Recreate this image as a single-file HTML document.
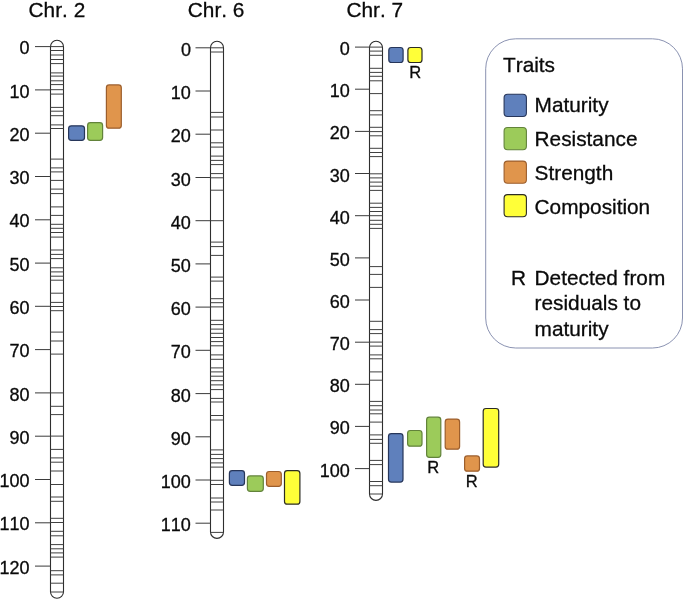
<!DOCTYPE html>
<html><head><meta charset="utf-8"><title>QTL map</title>
<style>
html,body{margin:0;padding:0;background:#fff;}
body{width:685px;height:601px;overflow:hidden;}
svg{display:block;will-change:transform;}
text{font-family:"Liberation Sans",sans-serif;fill:#0a0a0a;font-kerning:none;stroke:#0a0a0a;stroke-width:0.3px;}
.t20{font-size:20.8px;}
.t18{font-size:18px;}
.t15{font-size:16.5px;}
.chr{fill:#fff;stroke:#2e2e2e;stroke-width:1.1;}
.mk{stroke:#404040;stroke-width:1;}
.tk{stroke:#3a3a3a;stroke-width:1;}
</style></head><body>
<svg width="685" height="601" viewBox="0 0 685 601">
<rect x="0" y="0" width="685" height="601" fill="#ffffff"/>
<text class="t20" x="28.6" y="16.9">Chr. 2</text>
<rect class="chr" x="50.50" y="40.30" width="13.00" height="558.00" rx="6.50" ry="6.50"/>
<line class="mk" x1="50.50" x2="63.50" y1="46.6" y2="46.6"/>
<line class="mk" x1="50.50" x2="63.50" y1="50.5" y2="50.5"/>
<line class="mk" x1="50.50" x2="63.50" y1="55.0" y2="55.0"/>
<line class="mk" x1="50.50" x2="63.50" y1="59.5" y2="59.5"/>
<line class="mk" x1="50.50" x2="63.50" y1="63.6" y2="63.6"/>
<line class="mk" x1="50.50" x2="63.50" y1="72.9" y2="72.9"/>
<line class="mk" x1="50.50" x2="63.50" y1="76.1" y2="76.1"/>
<line class="mk" x1="50.50" x2="63.50" y1="80.8" y2="80.8"/>
<line class="mk" x1="50.50" x2="63.50" y1="84.6" y2="84.6"/>
<line class="mk" x1="50.50" x2="63.50" y1="89.7" y2="89.7"/>
<line class="mk" x1="50.50" x2="63.50" y1="94.1" y2="94.1"/>
<line class="mk" x1="50.50" x2="63.50" y1="107.4" y2="107.4"/>
<line class="mk" x1="50.50" x2="63.50" y1="111.2" y2="111.2"/>
<line class="mk" x1="50.50" x2="63.50" y1="115.7" y2="115.7"/>
<line class="mk" x1="50.50" x2="63.50" y1="124.9" y2="124.9"/>
<line class="mk" x1="50.50" x2="63.50" y1="128.5" y2="128.5"/>
<line class="mk" x1="50.50" x2="63.50" y1="159.1" y2="159.1"/>
<line class="mk" x1="50.50" x2="63.50" y1="167.9" y2="167.9"/>
<line class="mk" x1="50.50" x2="63.50" y1="171.9" y2="171.9"/>
<line class="mk" x1="50.50" x2="63.50" y1="180.4" y2="180.4"/>
<line class="mk" x1="50.50" x2="63.50" y1="189.1" y2="189.1"/>
<line class="mk" x1="50.50" x2="63.50" y1="193.6" y2="193.6"/>
<line class="mk" x1="50.50" x2="63.50" y1="206.9" y2="206.9"/>
<line class="mk" x1="50.50" x2="63.50" y1="215.4" y2="215.4"/>
<line class="mk" x1="50.50" x2="63.50" y1="224.3" y2="224.3"/>
<line class="mk" x1="50.50" x2="63.50" y1="228.3" y2="228.3"/>
<line class="mk" x1="50.50" x2="63.50" y1="232.5" y2="232.5"/>
<line class="mk" x1="50.50" x2="63.50" y1="237.1" y2="237.1"/>
<line class="mk" x1="50.50" x2="63.50" y1="250.0" y2="250.0"/>
<line class="mk" x1="50.50" x2="63.50" y1="254.4" y2="254.4"/>
<line class="mk" x1="50.50" x2="63.50" y1="258.6" y2="258.6"/>
<line class="mk" x1="50.50" x2="63.50" y1="267.8" y2="267.8"/>
<line class="mk" x1="50.50" x2="63.50" y1="271.9" y2="271.9"/>
<line class="mk" x1="50.50" x2="63.50" y1="276.2" y2="276.2"/>
<line class="mk" x1="50.50" x2="63.50" y1="280.2" y2="280.2"/>
<line class="mk" x1="50.50" x2="63.50" y1="293.2" y2="293.2"/>
<line class="mk" x1="50.50" x2="63.50" y1="302.4" y2="302.4"/>
<line class="mk" x1="50.50" x2="63.50" y1="306.5" y2="306.5"/>
<line class="mk" x1="50.50" x2="63.50" y1="310.7" y2="310.7"/>
<line class="mk" x1="50.50" x2="63.50" y1="332.1" y2="332.1"/>
<line class="mk" x1="50.50" x2="63.50" y1="341.0" y2="341.0"/>
<line class="mk" x1="50.50" x2="63.50" y1="354.1" y2="354.1"/>
<line class="mk" x1="50.50" x2="63.50" y1="392.9" y2="392.9"/>
<line class="mk" x1="50.50" x2="63.50" y1="406.3" y2="406.3"/>
<line class="mk" x1="50.50" x2="63.50" y1="414.6" y2="414.6"/>
<line class="mk" x1="50.50" x2="63.50" y1="436.1" y2="436.1"/>
<line class="mk" x1="50.50" x2="63.50" y1="449.4" y2="449.4"/>
<line class="mk" x1="50.50" x2="63.50" y1="457.9" y2="457.9"/>
<line class="mk" x1="50.50" x2="63.50" y1="462.2" y2="462.2"/>
<line class="mk" x1="50.50" x2="63.50" y1="471.0" y2="471.0"/>
<line class="mk" x1="50.50" x2="63.50" y1="484.5" y2="484.5"/>
<line class="mk" x1="50.50" x2="63.50" y1="497.0" y2="497.0"/>
<line class="mk" x1="50.50" x2="63.50" y1="501.3" y2="501.3"/>
<line class="mk" x1="50.50" x2="63.50" y1="518.3" y2="518.3"/>
<line class="mk" x1="50.50" x2="63.50" y1="522.5" y2="522.5"/>
<line class="mk" x1="50.50" x2="63.50" y1="531.3" y2="531.3"/>
<line class="mk" x1="50.50" x2="63.50" y1="535.8" y2="535.8"/>
<line class="mk" x1="50.50" x2="63.50" y1="544.6" y2="544.6"/>
<line class="mk" x1="50.50" x2="63.50" y1="548.8" y2="548.8"/>
<line class="mk" x1="50.50" x2="63.50" y1="552.9" y2="552.9"/>
<line class="mk" x1="50.50" x2="63.50" y1="557.1" y2="557.1"/>
<line class="mk" x1="50.50" x2="63.50" y1="570.7" y2="570.7"/>
<line class="mk" x1="50.50" x2="63.50" y1="574.9" y2="574.9"/>
<line class="mk" x1="50.50" x2="63.50" y1="583.2" y2="583.2"/>
<line class="mk" x1="50.50" x2="63.50" y1="592.0" y2="592.0"/>
<line class="tk" x1="35.0" x2="50.50" y1="46.6" y2="46.6"/>
<text class="t18" text-anchor="end" x="29.6" y="54.2">0</text>
<line class="tk" x1="35.0" x2="50.50" y1="89.9" y2="89.9"/>
<text class="t18" text-anchor="end" x="29.6" y="97.5">10</text>
<line class="tk" x1="35.0" x2="50.50" y1="133.2" y2="133.2"/>
<text class="t18" text-anchor="end" x="29.6" y="140.8">20</text>
<line class="tk" x1="35.0" x2="50.50" y1="176.5" y2="176.5"/>
<text class="t18" text-anchor="end" x="29.6" y="184.1">30</text>
<line class="tk" x1="35.0" x2="50.50" y1="219.8" y2="219.8"/>
<text class="t18" text-anchor="end" x="29.6" y="227.4">40</text>
<line class="tk" x1="35.0" x2="50.50" y1="263.1" y2="263.1"/>
<text class="t18" text-anchor="end" x="29.6" y="270.7">50</text>
<line class="tk" x1="35.0" x2="50.50" y1="306.3" y2="306.3"/>
<text class="t18" text-anchor="end" x="29.6" y="313.9">60</text>
<line class="tk" x1="35.0" x2="50.50" y1="349.6" y2="349.6"/>
<text class="t18" text-anchor="end" x="29.6" y="357.2">70</text>
<line class="tk" x1="35.0" x2="50.50" y1="392.9" y2="392.9"/>
<text class="t18" text-anchor="end" x="29.6" y="400.5">80</text>
<line class="tk" x1="35.0" x2="50.50" y1="436.2" y2="436.2"/>
<text class="t18" text-anchor="end" x="29.6" y="443.8">90</text>
<line class="tk" x1="35.0" x2="50.50" y1="479.5" y2="479.5"/>
<text class="t18" text-anchor="end" x="29.6" y="487.1">100</text>
<line class="tk" x1="35.0" x2="50.50" y1="522.8" y2="522.8"/>
<text class="t18" text-anchor="end" x="29.6" y="530.4">110</text>
<line class="tk" x1="35.0" x2="50.50" y1="566.1" y2="566.1"/>
<text class="t18" text-anchor="end" x="29.6" y="573.7">120</text>
<text class="t20" x="187.8" y="16.9">Chr. 6</text>
<rect class="chr" x="210.50" y="41.25" width="13.00" height="497.15" rx="6.50" ry="6.50"/>
<line class="mk" x1="210.50" x2="223.50" y1="47.8" y2="47.8"/>
<line class="mk" x1="210.50" x2="223.50" y1="52.0" y2="52.0"/>
<line class="mk" x1="210.50" x2="223.50" y1="112.4" y2="112.4"/>
<line class="mk" x1="210.50" x2="223.50" y1="117.0" y2="117.0"/>
<line class="mk" x1="210.50" x2="223.50" y1="130.0" y2="130.0"/>
<line class="mk" x1="210.50" x2="223.50" y1="142.8" y2="142.8"/>
<line class="mk" x1="210.50" x2="223.50" y1="147.1" y2="147.1"/>
<line class="mk" x1="210.50" x2="223.50" y1="156.1" y2="156.1"/>
<line class="mk" x1="210.50" x2="223.50" y1="160.4" y2="160.4"/>
<line class="mk" x1="210.50" x2="223.50" y1="164.6" y2="164.6"/>
<line class="mk" x1="210.50" x2="223.50" y1="173.6" y2="173.6"/>
<line class="mk" x1="210.50" x2="223.50" y1="177.8" y2="177.8"/>
<line class="mk" x1="210.50" x2="223.50" y1="190.2" y2="190.2"/>
<line class="mk" x1="210.50" x2="223.50" y1="220.7" y2="220.7"/>
<line class="mk" x1="210.50" x2="223.50" y1="242.1" y2="242.1"/>
<line class="mk" x1="210.50" x2="223.50" y1="246.6" y2="246.6"/>
<line class="mk" x1="210.50" x2="223.50" y1="255.4" y2="255.4"/>
<line class="mk" x1="210.50" x2="223.50" y1="277.1" y2="277.1"/>
<line class="mk" x1="210.50" x2="223.50" y1="281.1" y2="281.1"/>
<line class="mk" x1="210.50" x2="223.50" y1="298.7" y2="298.7"/>
<line class="mk" x1="210.50" x2="223.50" y1="302.7" y2="302.7"/>
<line class="mk" x1="210.50" x2="223.50" y1="306.9" y2="306.9"/>
<line class="mk" x1="210.50" x2="223.50" y1="320.3" y2="320.3"/>
<line class="mk" x1="210.50" x2="223.50" y1="324.6" y2="324.6"/>
<line class="mk" x1="210.50" x2="223.50" y1="329.1" y2="329.1"/>
<line class="mk" x1="210.50" x2="223.50" y1="333.3" y2="333.3"/>
<line class="mk" x1="210.50" x2="223.50" y1="337.5" y2="337.5"/>
<line class="mk" x1="210.50" x2="223.50" y1="341.6" y2="341.6"/>
<line class="mk" x1="210.50" x2="223.50" y1="345.8" y2="345.8"/>
<line class="mk" x1="210.50" x2="223.50" y1="354.9" y2="354.9"/>
<line class="mk" x1="210.50" x2="223.50" y1="359.3" y2="359.3"/>
<line class="mk" x1="210.50" x2="223.50" y1="367.9" y2="367.9"/>
<line class="mk" x1="210.50" x2="223.50" y1="371.9" y2="371.9"/>
<line class="mk" x1="210.50" x2="223.50" y1="376.2" y2="376.2"/>
<line class="mk" x1="210.50" x2="223.50" y1="380.7" y2="380.7"/>
<line class="mk" x1="210.50" x2="223.50" y1="384.9" y2="384.9"/>
<line class="mk" x1="210.50" x2="223.50" y1="389.6" y2="389.6"/>
<line class="mk" x1="210.50" x2="223.50" y1="398.4" y2="398.4"/>
<line class="mk" x1="210.50" x2="223.50" y1="402.0" y2="402.0"/>
<line class="mk" x1="210.50" x2="223.50" y1="415.5" y2="415.5"/>
<line class="mk" x1="210.50" x2="223.50" y1="420.0" y2="420.0"/>
<line class="mk" x1="210.50" x2="223.50" y1="449.9" y2="449.9"/>
<line class="mk" x1="210.50" x2="223.50" y1="454.4" y2="454.4"/>
<line class="mk" x1="210.50" x2="223.50" y1="458.6" y2="458.6"/>
<line class="mk" x1="210.50" x2="223.50" y1="462.9" y2="462.9"/>
<line class="mk" x1="210.50" x2="223.50" y1="467.1" y2="467.1"/>
<line class="mk" x1="210.50" x2="223.50" y1="480.3" y2="480.3"/>
<line class="mk" x1="210.50" x2="223.50" y1="484.5" y2="484.5"/>
<line class="mk" x1="210.50" x2="223.50" y1="498.0" y2="498.0"/>
<line class="mk" x1="210.50" x2="223.50" y1="502.0" y2="502.0"/>
<line class="mk" x1="210.50" x2="223.50" y1="510.0" y2="510.0"/>
<line class="mk" x1="210.50" x2="223.50" y1="532.4" y2="532.4"/>
<line class="tk" x1="195.5" x2="210.50" y1="47.8" y2="47.8"/>
<text class="t18" text-anchor="end" x="190.9" y="55.8">0</text>
<line class="tk" x1="195.5" x2="210.50" y1="91.0" y2="91.0"/>
<text class="t18" text-anchor="end" x="190.9" y="99.0">10</text>
<line class="tk" x1="195.5" x2="210.50" y1="134.2" y2="134.2"/>
<text class="t18" text-anchor="end" x="190.9" y="142.2">20</text>
<line class="tk" x1="195.5" x2="210.50" y1="177.5" y2="177.5"/>
<text class="t18" text-anchor="end" x="190.9" y="185.5">30</text>
<line class="tk" x1="195.5" x2="210.50" y1="220.7" y2="220.7"/>
<text class="t18" text-anchor="end" x="190.9" y="228.7">40</text>
<line class="tk" x1="195.5" x2="210.50" y1="263.9" y2="263.9"/>
<text class="t18" text-anchor="end" x="190.9" y="271.9">50</text>
<line class="tk" x1="195.5" x2="210.50" y1="307.1" y2="307.1"/>
<text class="t18" text-anchor="end" x="190.9" y="315.1">60</text>
<line class="tk" x1="195.5" x2="210.50" y1="350.3" y2="350.3"/>
<text class="t18" text-anchor="end" x="190.9" y="358.3">70</text>
<line class="tk" x1="195.5" x2="210.50" y1="393.6" y2="393.6"/>
<text class="t18" text-anchor="end" x="190.9" y="401.6">80</text>
<line class="tk" x1="195.5" x2="210.50" y1="436.8" y2="436.8"/>
<text class="t18" text-anchor="end" x="190.9" y="444.8">90</text>
<line class="tk" x1="195.5" x2="210.50" y1="480.0" y2="480.0"/>
<text class="t18" text-anchor="end" x="190.9" y="488.0">100</text>
<line class="tk" x1="195.5" x2="210.50" y1="523.2" y2="523.2"/>
<text class="t18" text-anchor="end" x="190.9" y="531.2">110</text>
<text class="t20" x="346.5" y="16.9">Chr. 7</text>
<rect class="chr" x="369.50" y="41.25" width="13.00" height="459.15" rx="6.50" ry="6.50"/>
<line class="mk" x1="369.50" x2="382.50" y1="47.1" y2="47.1"/>
<line class="mk" x1="369.50" x2="382.50" y1="51.1" y2="51.1"/>
<line class="mk" x1="369.50" x2="382.50" y1="55.3" y2="55.3"/>
<line class="mk" x1="369.50" x2="382.50" y1="68.3" y2="68.3"/>
<line class="mk" x1="369.50" x2="382.50" y1="72.4" y2="72.4"/>
<line class="mk" x1="369.50" x2="382.50" y1="76.3" y2="76.3"/>
<line class="mk" x1="369.50" x2="382.50" y1="80.8" y2="80.8"/>
<line class="mk" x1="369.50" x2="382.50" y1="93.6" y2="93.6"/>
<line class="mk" x1="369.50" x2="382.50" y1="110.7" y2="110.7"/>
<line class="mk" x1="369.50" x2="382.50" y1="114.9" y2="114.9"/>
<line class="mk" x1="369.50" x2="382.50" y1="127.3" y2="127.3"/>
<line class="mk" x1="369.50" x2="382.50" y1="131.6" y2="131.6"/>
<line class="mk" x1="369.50" x2="382.50" y1="135.8" y2="135.8"/>
<line class="mk" x1="369.50" x2="382.50" y1="148.3" y2="148.3"/>
<line class="mk" x1="369.50" x2="382.50" y1="152.5" y2="152.5"/>
<line class="mk" x1="369.50" x2="382.50" y1="156.6" y2="156.6"/>
<line class="mk" x1="369.50" x2="382.50" y1="173.8" y2="173.8"/>
<line class="mk" x1="369.50" x2="382.50" y1="177.9" y2="177.9"/>
<line class="mk" x1="369.50" x2="382.50" y1="182.1" y2="182.1"/>
<line class="mk" x1="369.50" x2="382.50" y1="186.2" y2="186.2"/>
<line class="mk" x1="369.50" x2="382.50" y1="190.4" y2="190.4"/>
<line class="mk" x1="369.50" x2="382.50" y1="203.2" y2="203.2"/>
<line class="mk" x1="369.50" x2="382.50" y1="207.4" y2="207.4"/>
<line class="mk" x1="369.50" x2="382.50" y1="211.5" y2="211.5"/>
<line class="mk" x1="369.50" x2="382.50" y1="215.7" y2="215.7"/>
<line class="mk" x1="369.50" x2="382.50" y1="220.3" y2="220.3"/>
<line class="mk" x1="369.50" x2="382.50" y1="224.3" y2="224.3"/>
<line class="mk" x1="369.50" x2="382.50" y1="228.4" y2="228.4"/>
<line class="mk" x1="369.50" x2="382.50" y1="266.6" y2="266.6"/>
<line class="mk" x1="369.50" x2="382.50" y1="274.4" y2="274.4"/>
<line class="mk" x1="369.50" x2="382.50" y1="287.4" y2="287.4"/>
<line class="mk" x1="369.50" x2="382.50" y1="321.3" y2="321.3"/>
<line class="mk" x1="369.50" x2="382.50" y1="329.6" y2="329.6"/>
<line class="mk" x1="369.50" x2="382.50" y1="333.6" y2="333.6"/>
<line class="mk" x1="369.50" x2="382.50" y1="342.1" y2="342.1"/>
<line class="mk" x1="369.50" x2="382.50" y1="346.1" y2="346.1"/>
<line class="mk" x1="369.50" x2="382.50" y1="354.9" y2="354.9"/>
<line class="mk" x1="369.50" x2="382.50" y1="358.8" y2="358.8"/>
<line class="mk" x1="369.50" x2="382.50" y1="371.9" y2="371.9"/>
<line class="mk" x1="369.50" x2="382.50" y1="380.2" y2="380.2"/>
<line class="mk" x1="369.50" x2="382.50" y1="401.4" y2="401.4"/>
<line class="mk" x1="369.50" x2="382.50" y1="405.7" y2="405.7"/>
<line class="mk" x1="369.50" x2="382.50" y1="410.0" y2="410.0"/>
<line class="mk" x1="369.50" x2="382.50" y1="413.8" y2="413.8"/>
<line class="mk" x1="369.50" x2="382.50" y1="422.1" y2="422.1"/>
<line class="mk" x1="369.50" x2="382.50" y1="434.9" y2="434.9"/>
<line class="mk" x1="369.50" x2="382.50" y1="439.4" y2="439.4"/>
<line class="mk" x1="369.50" x2="382.50" y1="443.3" y2="443.3"/>
<line class="mk" x1="369.50" x2="382.50" y1="460.4" y2="460.4"/>
<line class="mk" x1="369.50" x2="382.50" y1="464.6" y2="464.6"/>
<line class="mk" x1="369.50" x2="382.50" y1="481.5" y2="481.5"/>
<line class="mk" x1="369.50" x2="382.50" y1="485.7" y2="485.7"/>
<line class="mk" x1="369.50" x2="382.50" y1="494.0" y2="494.0"/>
<line class="tk" x1="355.0" x2="369.50" y1="47.1" y2="47.1"/>
<text class="t18" text-anchor="end" x="349.8" y="55.1">0</text>
<line class="tk" x1="355.0" x2="369.50" y1="89.2" y2="89.2"/>
<text class="t18" text-anchor="end" x="349.8" y="97.2">10</text>
<line class="tk" x1="355.0" x2="369.50" y1="131.4" y2="131.4"/>
<text class="t18" text-anchor="end" x="349.8" y="139.4">20</text>
<line class="tk" x1="355.0" x2="369.50" y1="173.5" y2="173.5"/>
<text class="t18" text-anchor="end" x="349.8" y="181.5">30</text>
<line class="tk" x1="355.0" x2="369.50" y1="215.7" y2="215.7"/>
<text class="t18" text-anchor="end" x="349.8" y="223.7">40</text>
<line class="tk" x1="355.0" x2="369.50" y1="257.9" y2="257.9"/>
<text class="t18" text-anchor="end" x="349.8" y="265.9">50</text>
<line class="tk" x1="355.0" x2="369.50" y1="300.0" y2="300.0"/>
<text class="t18" text-anchor="end" x="349.8" y="308.0">60</text>
<line class="tk" x1="355.0" x2="369.50" y1="342.2" y2="342.2"/>
<text class="t18" text-anchor="end" x="349.8" y="350.2">70</text>
<line class="tk" x1="355.0" x2="369.50" y1="384.3" y2="384.3"/>
<text class="t18" text-anchor="end" x="349.8" y="392.3">80</text>
<line class="tk" x1="355.0" x2="369.50" y1="426.4" y2="426.4"/>
<text class="t18" text-anchor="end" x="349.8" y="434.4">90</text>
<line class="tk" x1="355.0" x2="369.50" y1="468.6" y2="468.6"/>
<text class="t18" text-anchor="end" x="349.8" y="476.6">100</text>
<rect x="68.6" y="125.8" width="15.9" height="14.6" rx="2.8" fill="#5f80bc" stroke="#27365a" stroke-width="1.2"/>
<rect x="87.6" y="122.7" width="15.0" height="17.7" rx="2.8" fill="#9ccb5a" stroke="#62833a" stroke-width="1.2"/>
<rect x="106.4" y="84.9" width="14.9" height="43.3" rx="2.8" fill="#e0954c" stroke="#9c5e2c" stroke-width="1.2"/>
<rect x="229.4" y="470.6" width="15.1" height="14.8" rx="2.8" fill="#5f80bc" stroke="#27365a" stroke-width="1.2"/>
<rect x="247.4" y="475.9" width="15.9" height="15.4" rx="2.8" fill="#9ccb5a" stroke="#62833a" stroke-width="1.2"/>
<rect x="266.5" y="471.5" width="14.8" height="14.9" rx="2.8" fill="#e0954c" stroke="#9c5e2c" stroke-width="1.2"/>
<rect x="284.5" y="470.6" width="15.4" height="33.6" rx="2.8" fill="#ffff38" stroke="#2c2c24" stroke-width="1.2"/>
<rect x="388.8" y="47.5" width="14.3" height="15.0" rx="2.8" fill="#5f80bc" stroke="#27365a" stroke-width="1.2"/>
<rect x="407.9" y="47.5" width="14.1" height="15.0" rx="2.8" fill="#ffff38" stroke="#2c2c24" stroke-width="1.2"/>
<rect x="388.5" y="433.7" width="14.5" height="48.4" rx="2.8" fill="#5f80bc" stroke="#27365a" stroke-width="1.2"/>
<rect x="407.6" y="430.5" width="14.4" height="15.7" rx="2.8" fill="#9ccb5a" stroke="#62833a" stroke-width="1.2"/>
<rect x="426.6" y="417.2" width="14.2" height="40.2" rx="2.8" fill="#9ccb5a" stroke="#62833a" stroke-width="1.2"/>
<rect x="445.2" y="419.1" width="14.4" height="30.1" rx="2.8" fill="#e0954c" stroke="#9c5e2c" stroke-width="1.2"/>
<rect x="464.6" y="455.9" width="14.9" height="15.3" rx="2.8" fill="#e0954c" stroke="#9c5e2c" stroke-width="1.2"/>
<rect x="483.2" y="408.5" width="15.5" height="58.6" rx="2.8" fill="#ffff38" stroke="#2c2c24" stroke-width="1.2"/>
<text class="t15" text-anchor="middle" x="415.1" y="78.3">R</text>
<text class="t15" text-anchor="middle" x="433.2" y="473.3">R</text>
<text class="t15" text-anchor="middle" x="471.6" y="486.9">R</text>
<rect x="485.7" y="38.8" width="196.8" height="309.2" rx="30" ry="30" fill="#fff" stroke="#7d86a8" stroke-width="0.9"/>
<text class="t20" x="503.0" y="71.5">Traits</text>
<rect x="504.1" y="94.3" width="22.3" height="22.2" rx="3.5" fill="#5f80bc" stroke="#27365a" stroke-width="1.1"/>
<rect x="504.1" y="127.5" width="22.3" height="22.2" rx="3.5" fill="#9ccb5a" stroke="#62833a" stroke-width="1.1"/>
<rect x="504.1" y="161.1" width="22.3" height="22.2" rx="3.5" fill="#e0954c" stroke="#9c5e2c" stroke-width="1.1"/>
<rect x="504.1" y="194.6" width="22.3" height="22.2" rx="3.5" fill="#ffff38" stroke="#2c2c24" stroke-width="1.1"/>
<text class="t20" x="534.6" y="112.4">Maturity</text>
<text class="t20" x="534.6" y="146.2">Resistance</text>
<text class="t20" x="534.6" y="179.8">Strength</text>
<text class="t20" x="534.6" y="213.7">Composition</text>
<text class="t20" x="510.9" y="284.8">R</text>
<text class="t20" x="534.6" y="284.8">Detected from</text>
<text class="t20" x="534.6" y="310.3">residuals to</text>
<text class="t20" x="534.6" y="335.5">maturity</text>
</svg></body></html>
